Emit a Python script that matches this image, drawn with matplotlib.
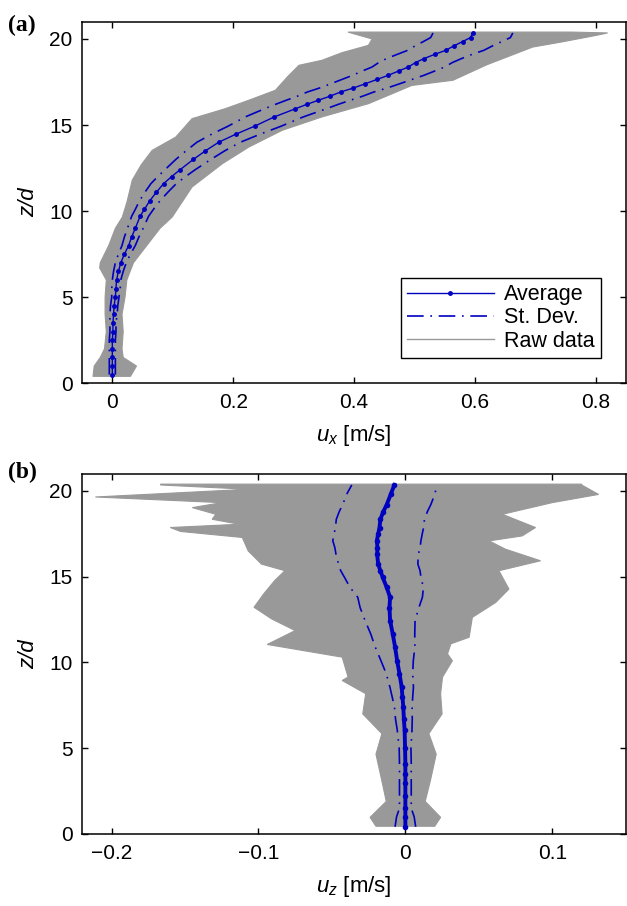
import numpy as np
import matplotlib
matplotlib.use('Agg')
import matplotlib.pyplot as plt
from matplotlib.lines import Line2D

plt.rcParams['font.family'] = ['Liberation Sans', 'DejaVu Sans']
plt.rcParams['mathtext.fontset'] = 'custom'
plt.rcParams['mathtext.rm'] = 'Liberation Sans'
plt.rcParams['mathtext.it'] = 'Liberation Sans:italic'

# ---- panel (a): u_x profile ----
z_a = [0.5, 1.0, 1.5, 2.0, 2.5, 3.0, 3.5, 4.0, 4.5, 5.0, 5.5, 6.0, 6.5, 7.0, 7.5, 8.0, 8.5, 9.0,
       9.7, 10.1, 10.6, 11.1, 11.6, 12.0, 12.4, 13.0, 13.5, 14.0, 14.46, 14.94, 15.47, 15.93,
       16.2, 16.44, 16.67, 16.92, 17.15, 17.4, 17.66, 17.89, 18.14, 18.37, 18.63, 18.86,
       19.11, 19.34, 19.59, 19.85, 20.08, 20.35]
ux_avg = [0, 0, 0, 0, 0, 0.001, 0.001, 0.002, 0.003, 0.005, 0.006, 0.007, 0.010, 0.014, 0.020,
          0.027, 0.032, 0.038, 0.046, 0.053, 0.062, 0.073, 0.085, 0.098, 0.112, 0.134, 0.154,
          0.176, 0.204, 0.236, 0.268, 0.302, 0.322, 0.341, 0.360, 0.378, 0.399, 0.419, 0.439,
          0.457, 0.474, 0.490, 0.502, 0.516, 0.534, 0.552, 0.565, 0.580, 0.593, 0.597]
ux_std = [0.005, 0.005, 0.005, 0.005, 0.005, 0.005, 0.005, 0.006, 0.006, 0.006, 0.007, 0.007,
          0.008, 0.009, 0.010, 0.011, 0.012, 0.013, 0.014, 0.015, 0.017, 0.019, 0.021, 0.023,
          0.025, 0.029, 0.032, 0.036, 0.040, 0.044, 0.048, 0.051, 0.052, 0.053, 0.054, 0.055,
          0.056, 0.057, 0.058, 0.059, 0.060, 0.060, 0.061, 0.062, 0.062, 0.063, 0.064, 0.065,
          0.066, 0.066]

# envelope of the raw profiles (left / right edge of the grey band)
zl_a = [0.4, 1.0, 1.5, 2.0, 3.0, 4.0, 5.0, 6.0, 6.7, 7.0, 8.0, 9.0, 9.65, 10.5, 11.8, 12.7,
        13.53, 14.3, 15.37, 15.95, 16.44, 17.02, 17.8, 18.47, 18.76, 19.2, 19.63, 20.0, 20.3, 20.4]
xl_a = [-0.032, -0.030, -0.020, -0.013, -0.010, -0.012, -0.012, -0.010, -0.021, -0.020, -0.006,
        0.005, 0.0165, 0.024, 0.033, 0.048, 0.066, 0.105, 0.132, 0.187, 0.226, 0.27, 0.29,
        0.309, 0.347, 0.38, 0.424, 0.43, 0.40, 0.39]
zr_a = [0.4, 1.0, 1.5, 2.0, 3.0, 4.0, 5.0, 6.0, 7.0, 8.0, 9.0, 9.65, 10.5, 11.4, 12.75, 13.72,
        14.69, 15.47, 16.24, 17.3, 17.6, 18.5, 19.53, 19.8, 20.2, 20.35, 20.4]
xr_a = [0.030, 0.040, 0.018, 0.016, 0.018, 0.016, 0.021, 0.024, 0.035, 0.057, 0.079, 0.099,
        0.115, 0.132, 0.182, 0.226, 0.281, 0.347, 0.424, 0.496, 0.564, 0.62, 0.696, 0.74,
        0.80, 0.82, 0.76]

# ---- panel (b): u_z profile ----
z_b = [0.42, 1.0, 1.5, 2.2, 3.0, 3.5, 4.1, 5.0, 6.05, 6.7, 7.4, 8.0, 8.56, 9.34, 10.1, 10.9,
       11.67, 12.44, 13.2, 13.8, 14.38, 14.96, 15.35, 15.74, 16.3, 16.7, 17.1, 17.5, 17.87,
       18.35, 18.8, 19.2, 19.8, 20.35]
uz_avg = [0, 0, 0, 0, 0, 0, 0, -0.0002, -0.0005, -0.001, -0.0014, -0.002, -0.0025, -0.004,
          -0.0056, -0.007, -0.0086, -0.0104, -0.0108, -0.0104, -0.0127, -0.0154, -0.017,
          -0.0185, -0.0192, -0.019, -0.0194, -0.0185, -0.0176, -0.017, -0.015, -0.0127,
          -0.010, -0.0075]
uz_std = [0.007, 0.006, 0.004, 0.004, 0.004, 0.004, 0.004, 0.004, 0.005, 0.0057, 0.006, 0.007,
          0.008, 0.009, 0.011, 0.0135, 0.015, 0.017, 0.020, 0.022, 0.025, 0.026, 0.027, 0.027,
          0.028, 0.029, 0.030, 0.030, 0.030, 0.030, 0.030, 0.030, 0.030, 0.029]

zl_b = [0.45, 0.97, 1.9, 3.1, 4.65, 5.85, 7.0, 8.18, 8.95, 9.15, 10.31, 11.05, 11.86, 12.54,
        13.22, 13.99, 14.77, 15.35, 15.74, 16.51, 17.29, 17.64, 17.87, 18.06, 18.35, 18.64,
        19.03, 19.32, 19.65, 20.1, 20.35, 20.4]
xl_b = [-0.020, -0.024, -0.013, -0.016, -0.020, -0.016, -0.029, -0.027, -0.043, -0.039, -0.043,
        -0.094, -0.075, -0.091, -0.103, -0.0965, -0.089, -0.082, -0.098, -0.107, -0.111,
        -0.153, -0.160, -0.113, -0.1315, -0.129, -0.145, -0.125, -0.211, -0.107, -0.1666,
        -0.1666]
zr_b = [0.45, 0.97, 1.9, 3.1, 4.65, 5.85, 7.0, 8.18, 9.15, 10.1, 10.5, 11.09, 11.47, 12.63,
        13.5, 14.28, 15.35, 15.93, 16.61, 17.09, 17.38, 17.87, 18.64, 19.32, 19.8, 20.35, 20.4]
xr_b = [0.020, 0.024, 0.0135, 0.017, 0.021, 0.016, 0.025, 0.024, 0.0253, 0.032, 0.0287, 0.031,
        0.0434, 0.0456, 0.0615, 0.0705, 0.0637, 0.092, 0.068, 0.057, 0.0795, 0.0886, 0.066,
        0.0999, 0.1315, 0.120, 0.120]

blue = '#0000c0'
grey = '#999999'
fs = 15
dash = (10, 4, 1, 4)

fig = plt.figure(figsize=(6.27, 9.06), dpi=100)
ax1 = fig.add_axes([0.131, 0.577, 0.867, 0.399])
ax2 = fig.add_axes([0.131, 0.0795, 0.867, 0.3975])


def panel(ax, z, avg, std, zl, xl, zr, xr, xlim, xticks, xlabel, ms, lw_avg):
    ax.fill(np.r_[xl, xr[::-1]], np.r_[zl, zr[::-1]], color=grey, lw=0.8, zorder=1)
    avg = np.array(avg)
    std = np.array(std)
    for sgn in (-1, 1):
        ax.plot(avg + sgn * std, z, color=blue, lw=1.2, dashes=dash, zorder=2)
    ax.plot(avg, z, color=blue, lw=lw_avg, marker='.', ms=ms, zorder=3)
    ax.set_xlim(*xlim)
    ax.set_ylim(0, 21)
    ax.set_xticks(xticks)
    ax.set_yticks([0, 5, 10, 15, 20])
    ax.tick_params(direction='in', top=True, right=True, length=4, width=1,
                   labelsize=fs, pad=7)
    for s in ax.spines.values():
        s.set_linewidth(1.1)
    ax.set_xlabel(xlabel, fontsize=fs + 1, labelpad=8)
    ax.set_ylabel('z/d', fontsize=fs + 1, style='italic', labelpad=7)


panel(ax1, z_a, ux_avg, ux_std, zl_a, np.array(xl_a), zr_a, np.array(xr_a),
      (-0.05, 0.85), [0, 0.2, 0.4, 0.6, 0.8], r'$u_x$ [m/s]', 5, 1.0)
panel(ax2, z_b, uz_avg, uz_std, zl_b, np.array(xl_b), zr_b, np.array(xr_b),
      (-0.22, 0.15), [-0.2, -0.1, 0, 0.1], r'$u_z$ [m/s]', 6, 2.8)
ax1.set_xticklabels(['0', '0.2', '0.4', '0.6', '0.8'])
ax2.set_xticklabels(['\u22120.2', '\u22120.1', '0', '0.1'])

handles = [Line2D([], [], color=blue, lw=1.0, marker='.', ms=5),
           Line2D([], [], color=blue, lw=1.2, dashes=dash),
           Line2D([], [], color=grey, lw=1.0)]
leg = ax1.legend(handles, ['Average', 'St. Dev.', 'Raw data'], loc='lower right',
                 bbox_to_anchor=(0.975, 0.04), fontsize=fs + 0.5, handlelength=4.0,
                 fancybox=False, framealpha=1, edgecolor='black', borderpad=0.3,
                 labelspacing=0.1, handletextpad=0.5)
leg.get_frame().set_linewidth(1.0)

fig.text(0.012, 0.972, '(a)', fontsize=17, fontweight='bold', family='Liberation Serif',
         va='center')
fig.text(0.012, 0.478, '(b)', fontsize=17, fontweight='bold', family='Liberation Serif',
         va='center')

fig.savefig('out.png', dpi=100)
